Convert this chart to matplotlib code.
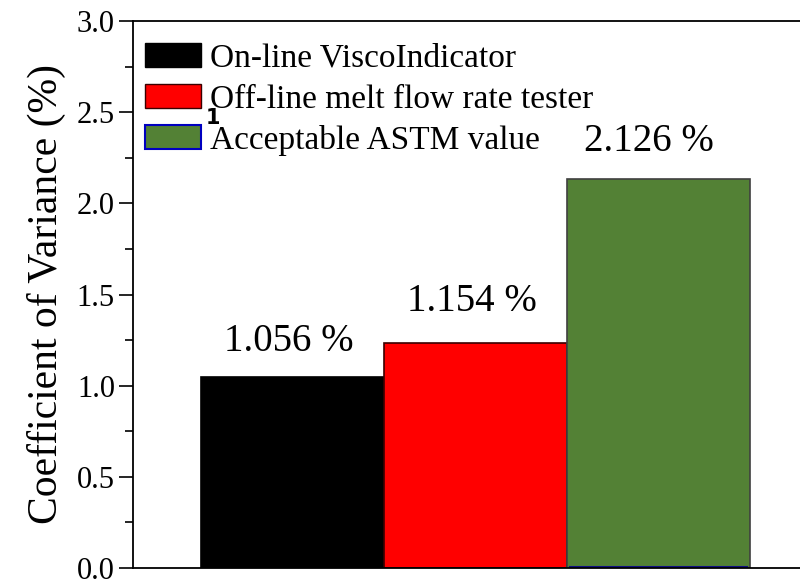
import matplotlib
matplotlib.use("Agg")
import matplotlib.pyplot as plt
from matplotlib.patches import Patch
from matplotlib.ticker import MultipleLocator

plt.rcParams['font.family'] = ['Liberation Serif', 'DejaVu Serif']

# data
categories = ['On-line ViscoIndicator', 'Off-line melt flow rate tester',
              'Acceptable ASTM value']
heights = [1.048, 1.234, 2.134]
labels = ['1.056 %', '1.154 %', '2.126 %']
colors = ['#000000', '#ff0000', '#538135']
edges = ['#000000', '#3a0000', '#404040']

fig = plt.figure(figsize=(8, 5.81), dpi=100)
ax = fig.add_axes([133 / 800, 13 / 581, 690 / 800, 547 / 581])

xs = [1, 2, 3]
ax.bar(xs, heights, width=1.0, color=colors, edgecolor=edges, linewidth=1.2)
# thin blue outlined bar sitting under the green one
ax.bar(3, 0.008, width=0.97, color='none', edgecolor='#101080', linewidth=1.5)

label_x = [0.98, 1.98, 2.95]
label_y = [1.24, 1.46, 2.34]
for x, y, t in zip(label_x, label_y, labels):
    ax.text(x, y, t, ha='center', va='center', fontsize=28)

ax.set_xlim(0.13, 3.9)
ax.set_ylim(0, 3.0)
ax.yaxis.set_major_locator(MultipleLocator(0.5))
ax.yaxis.set_minor_locator(MultipleLocator(0.25))
ax.set_xticks([])
ax.tick_params(axis='y', which='major', direction='out', length=10, width=1.2,
               labelsize=22, pad=3)
ax.tick_params(axis='y', which='minor', direction='out', length=6, width=1.2)
for s in ax.spines.values():
    s.set_linewidth(1.3)
ax.set_ylabel('Coefficient of Variance (%)', fontsize=30, labelpad=8)

handles = [Patch(facecolor=colors[0], edgecolor='black'),
           Patch(facecolor=colors[1], edgecolor='#3a0000'),
           Patch(facecolor=colors[2], edgecolor='#0000c0', linewidth=1.5)]
ax.legend(handles, categories, loc='upper left', frameon=False, fontsize=24,
          handlelength=1.7, handleheight=0.75, handletextpad=0.25,
          labelspacing=0.3, borderaxespad=0.0, borderpad=0.0,
          bbox_to_anchor=(0.017, 0.96))
fig.text(206 / 800, 1 - 118 / 581, '1', fontsize=15, fontweight='bold',
         family='DejaVu Sans', ha='left', va='center')

fig.savefig('out.png', dpi=100)
